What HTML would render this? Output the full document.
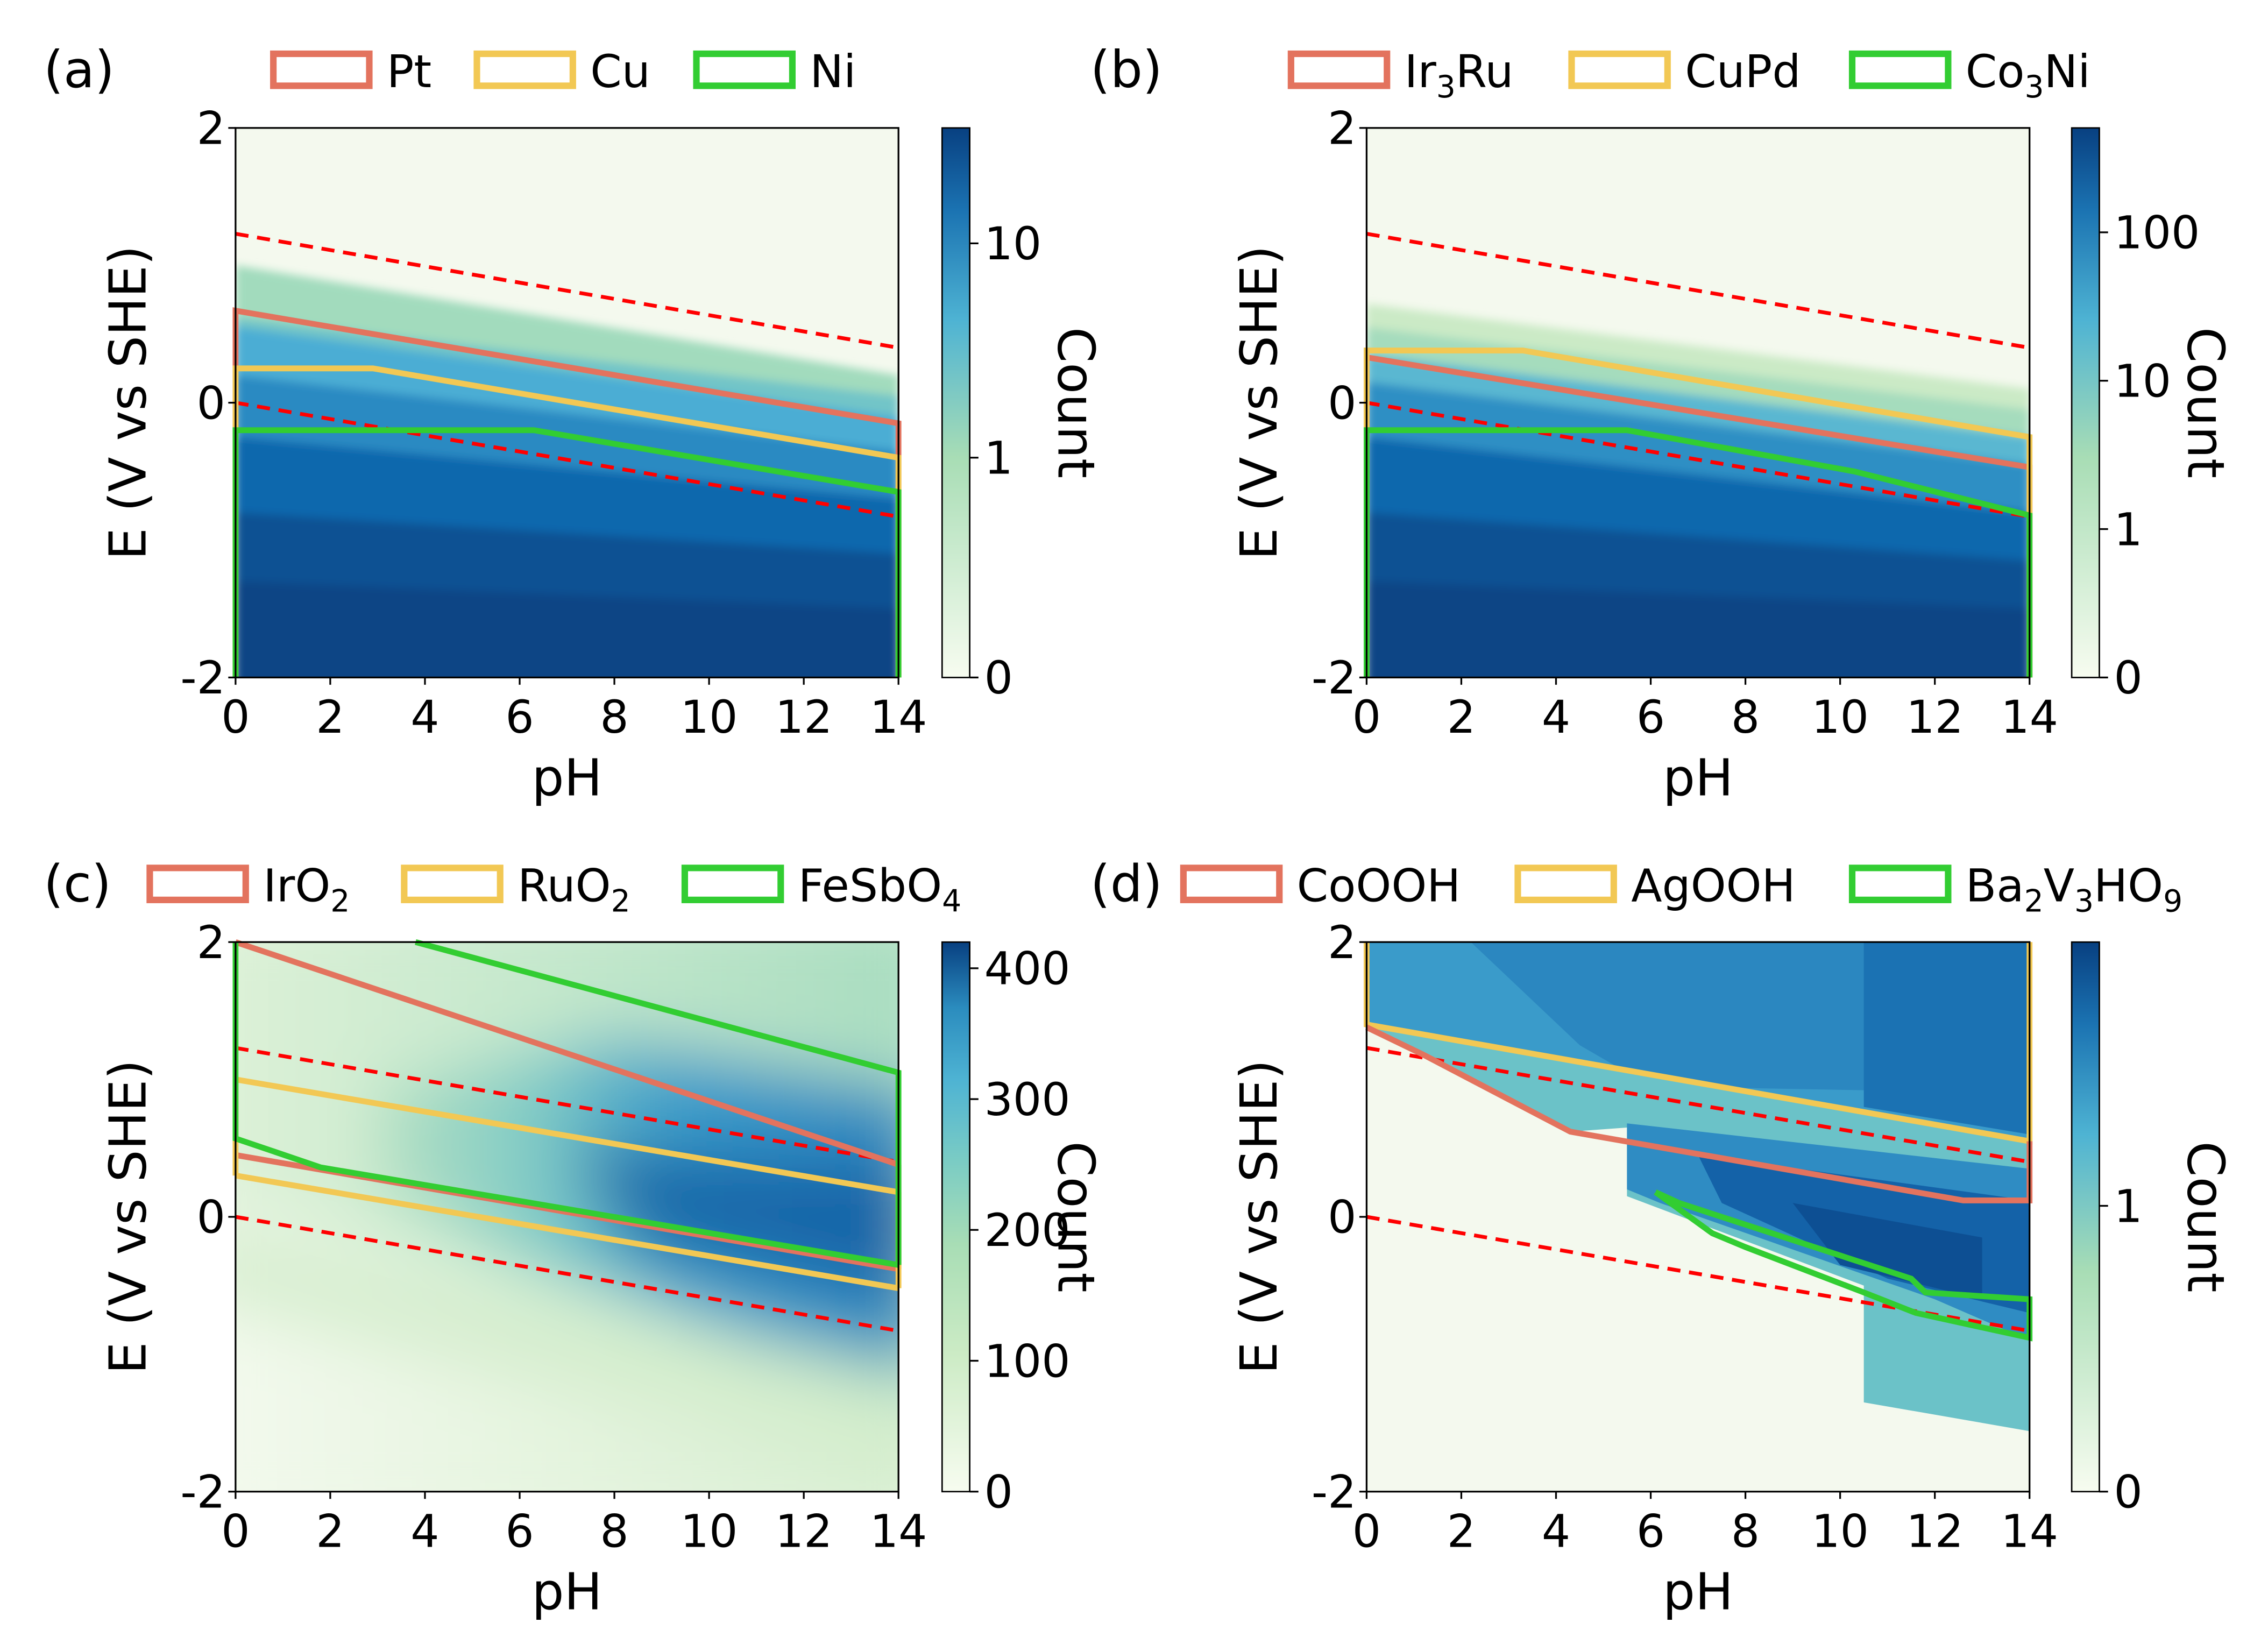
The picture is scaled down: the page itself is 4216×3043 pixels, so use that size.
<!DOCTYPE html>
<html><head><meta charset="utf-8"><style>
html,body{margin:0;padding:0;background:#fff}
svg{display:block}
text{font-family:"DejaVu Sans","Liberation Sans",sans-serif;fill:#000}
</style></head><body>
<svg id="fig" xmlns="http://www.w3.org/2000/svg" width="4216" height="3043" viewBox="0 0 1560 1126">
<defs>
<filter id="blur" x="-20%" y="-20%" width="140%" height="140%"><feGaussianBlur stdDeviation="22"/></filter>
<filter id="blur2" x="-20%" y="-20%" width="140%" height="140%"><feGaussianBlur stdDeviation="3"/></filter>
<linearGradient id="cbA" x1="0" y1="1" x2="0" y2="0"><stop offset="0" stop-color="#f7fcf0"/><stop offset="0.4" stop-color="#a8ddb5"/><stop offset="0.65" stop-color="#4eb3d3"/><stop offset="0.85" stop-color="#1b73b2"/><stop offset="1" stop-color="#084081"/></linearGradient>
<linearGradient id="cbC" x1="0" y1="1" x2="0" y2="0"><stop offset="0" stop-color="#f7fcf0"/><stop offset="0.25" stop-color="#ccebc5"/><stop offset="0.45" stop-color="#a8ddb5"/><stop offset="0.6" stop-color="#7bccc4"/><stop offset="0.75" stop-color="#4eb3d3"/><stop offset="0.88" stop-color="#2b8cbe"/><stop offset="1" stop-color="#084081"/></linearGradient>
<linearGradient id="gTopC" x1="0" y1="0" x2="1" y2="0"><stop offset="0" stop-color="#dff2d8"/><stop offset="1" stop-color="#a6dcbf"/></linearGradient>
<linearGradient id="gBandC" x1="0" y1="0" x2="1" y2="0"><stop offset="0" stop-color="#b5e1c2"/><stop offset="0.3" stop-color="#7ecac6"/><stop offset="0.55" stop-color="#3a9bca"/><stop offset="1" stop-color="#2a85bf"/></linearGradient>
<linearGradient id="gBotC" x1="0" y1="0" x2="1" y2="0"><stop offset="0" stop-color="#f4faee"/><stop offset="1" stop-color="#d5eecf"/></linearGradient>
</defs>
<g id="root"></g>
</svg>
<script>
// ---- data (pH, E) ----
const pHTicks = [0,2,4,6,8,10,12,14];
const eTicks = [-2,0,2];
const waterUpper = [[0,1.23],[14,0.40]];
const waterLower = [[0,0],[14,-0.83]];
// panel a
const aNames = ["Pt","Cu","Ni"];
const aPt = [[0,-2],[0,0.67],[14,-0.15],[14,-2]];
const aCu = [[0,-2],[0,0.25],[2.9,0.25],[14,-0.4],[14,-2]];
const aNi = [[0,-2],[0,-0.2],[6.3,-0.2],[14,-0.65],[14,-2]];
const aBandTop0 = [1.0,0.62,0.55,0.2,-0.25,-0.8,-1.3];
const aBandTop14 = [0.2,0.05,-0.1,-0.35,-0.7,-1.1,-1.5];
const aBandColor = ["#a2dbbd","#72c5c8","#4badd4","#2a8ac2","#1068ad","#0b5193","#094585"];
const aCbTicks = ["10","1","0"];
const aCbTickPos = [0.79,0.40,0];
// panel b
const bNames = ["Ir_3Ru","CuPd","Co_3Ni"];
const bIr = [[0,-2],[0,0.33],[14,-0.47],[14,-2]];
const bCu = [[0,-2],[0,0.38],[3.3,0.38],[14,-0.25],[14,-2]];
const bCo = [[0,-2],[0,-0.2],[5.5,-0.2],[10.3,-0.5],[14,-0.82],[14,-2]];
const bBandTop0 = [0.72,0.55,0.35,0.15,-0.25,-0.8,-1.3];
const bBandTop14 = [0.1,-0.05,-0.25,-0.45,-0.8,-1.15,-1.5];
const bBandColor = ["#cbeac6","#a5dcbd","#5ab7d1","#2f8fc4","#1068ad","#0b5193","#094585"];
const bCbTicks = ["100","10","1","0"];
const bCbTickPos = [0.81,0.54,0.27,0];
// panel c
const cNames = ["IrO_2","RuO_2","FeSbO_4"];
const cIrUp = [[0,2.0],[14,0.38]];
const cIrLo = [[0,0.45],[14,-0.38]];
const cIrSide = [[14,0.38],[14,-0.38]];
const cRuUp = [[0,1.0],[14,0.18]];
const cRuLo = [[0,0.3],[14,-0.52]];
const cRuSide = [[0,1.0],[0,0.3]];
const cRuSide2 = [[14,0.18],[14,-0.52]];
const cFeUp = [[3.8,2.0],[14,1.05],[14,-0.35]];
const cFeLo = [[0,2.0],[0,0.57],[1.8,0.36],[14,-0.35]];
const cCbTicks = ["400","300","200","100","0"];
const cCbValues = [400,300,200,100,0];
const cCbMax = 420;
// panel d
const dNames = ["CoOOH","AgOOH","Ba_2V_3HO_9"];
const dAg = [[0,2],[0,1.4],[14,0.55],[14,2]];
const dCo = [[0,1.38],[1.2,1.18],[4.3,0.62],[12.6,0.12],[14,0.12],[14,0.55]];
const dBa = [[6.1,0.18],[7.3,-0.12],[8,-0.22],[10.5,-0.55],[11.6,-0.7],[14,-0.88],[14,-0.6],[11.8,-0.55],[11.5,-0.45],[6.6,0.1],[6.1,0.18]];
const dCbTicks = ["1","0"];
const dCbTickPos = [0.52,0];

const RED="#e3735e", YEL="#f2c854", GRN="#32cd32";
const NS="http://www.w3.org/2000/svg";
const root=document.getElementById('root');
function el(tag,attrs,parent){const e=document.createElementNS(NS,tag);for(const k in attrs)e.setAttribute(k,attrs[k]);(parent||root).appendChild(e);return e;}

const panels={
 a:{x0:162,x1:618,y0:88,y1:466,cb:648,lx:30,ly:60},
 b:{x0:940,x1:1396,y0:88,y1:466,cb:1425,lx:750,ly:60},
 c:{x0:162,x1:618,y0:648,y1:1026,cb:648,lx:30,ly:620},
 d:{x0:940,x1:1396,y0:648,y1:1026,cb:1425,lx:750,ly:620}
};
function X(p,ph){return p.x0+(ph/14)*(p.x1-p.x0);}
function Y(p,e){return p.y1-((e+2)/4)*(p.y1-p.y0);}
function pts(p,arr){return arr.map(q=>X(p,q[0]).toFixed(1)+","+Y(p,q[1]).toFixed(1)).join(" ");}

function panel(key){
 const p=panels[key];
 const g=el('g',{});
 
 
 const cp=el('clipPath',{id:'clip'+key},g);
 el('rect',{x:p.x0,y:p.y0,width:p.x1-p.x0,height:p.y1-p.y0},cp);
 const hm=el('g',{'clip-path':'url(#clip'+key+')'},g);
 
 
 el('rect',{x:p.x0,y:p.y0,width:p.x1-p.x0,height:p.y1-p.y0,fill:'#f4f9ee'},hm);
 return {p,g,hm};
}
function bands(P,top0,top14,cols){
 const inner=el('g',{filter:'url(#blur2)'},P.hm);
 for(let i=0;i<cols.length;i++){
  const poly=el('polygon',{points:pts(P.p,[[0,top0[i]],[14,top14[i]],[14,-2.3],[0,-2.3]]),fill:cols[i]},inner);
  
  
 }
}
function line(P,arr,color,name,closed){
 const l=el(closed?'polygon':'polyline',{points:pts(P.p,arr),fill:'none',stroke:color,'stroke-width':4,'stroke-linejoin':'miter'},P.g);
 
 
}
function water(P){
 const u=el('polyline',{points:pts(P.p,waterUpper),fill:'none',stroke:'#ff0000','stroke-width':2.6,'stroke-dasharray':'9 6'},P.g);
 
 
 const l=el('polyline',{points:pts(P.p,waterLower),fill:'none',stroke:'#ff0000','stroke-width':2.6,'stroke-dasharray':'9 6'},P.g);
 
 
}
function axes(P,key){
 const p=P.p;
 const fr=el('rect',{x:p.x0,y:p.y0,width:p.x1-p.x0,height:p.y1-p.y0,fill:'none',stroke:'#000','stroke-width':1.2},P.g);
 
 
 pHTicks.forEach(t=>{
  const x=X(p,t);
  el('line',{x1:x,y1:p.y1,x2:x,y2:p.y1+5,stroke:'#000','stroke-width':1.2},P.g);
  const tx=el('text',{x:x,y:p.y1+38,'font-size':31,'text-anchor':'middle'},P.g);
  tx.textContent=t;
  
  
 });
 eTicks.forEach(t=>{
  const y=Y(p,t);
  el('line',{x1:p.x0-5,y1:y,x2:p.x0,y2:y,stroke:'#000','stroke-width':1.2},P.g);
  const tx=el('text',{x:p.x0-7,y:y+11,'font-size':31,'text-anchor':'end'},P.g);
  tx.textContent=t;
  
  
 });
 const xl=el('text',{x:(p.x0+p.x1)/2,y:p.y1+81,'font-size':35,'text-anchor':'middle'},P.g);
 xl.textContent='pH';
 
 
 const cy=(p.y0+p.y1)/2;
 const yl=el('text',{x:0,y:0,'font-size':35,'text-anchor':'middle',transform:`translate(${p.x0-62},${cy}) rotate(-90)`},P.g);
 yl.textContent='E (V vs SHE)';
 
 
 const pl=el('text',{x:p.lx,y:p.ly,'font-size':35},P.g);
 pl.textContent='('+key+')';
 
 
}
function colorbar(P,grad,labels,pos){
 const p=P.p;
 const cb=el('rect',{x:p.cb,y:p.y0,width:19,height:p.y1-p.y0,fill:'url(#'+grad+')',stroke:'#000','stroke-width':1},P.g);
 
 
 labels.forEach((s,i)=>{
  const y=p.y1-pos[i]*(p.y1-p.y0);
  el('line',{x1:p.cb+19,y1:y,x2:p.cb+25,y2:y,stroke:'#000','stroke-width':1.2},P.g);
  const t=el('text',{x:p.cb+29,y:y+11,'font-size':31},P.g);
  t.textContent=s;
  
  
 });
 const cl=el('text',{x:0,y:0,'font-size':35,'text-anchor':'middle',transform:`translate(${p.cb+80},${(p.y0+p.y1)/2}) rotate(90)`},P.g);
 cl.textContent='Count';
 
 
}
function richText(t,str){
 const parts=str.split(/(_\d)/);
 let shifted=false;
 parts.forEach(s=>{
  if(!s)return;
  if(s[0]==='_'){const ts=el('tspan',{'font-size':21,dy:7},t);ts.textContent=s.slice(1);shifted=true;}
  else{const ts=el('tspan',shifted?{dy:-7}:{},t);ts.textContent=s;shifted=false;}
 });
}
function legend(P,names,xs,y){
 const cols=[RED,YEL,GRN];
 names.forEach((n,i)=>{
  const r=el('rect',{x:xs[i],y:y,width:66,height:22,fill:'none',stroke:cols[i],'stroke-width':4.5},P.g);
  
  
  const t=el('text',{x:xs[i]+78,y:y+23,'font-size':31},P.g);
  richText(t,n);
  
  
 });
}

// Panel a
let A=panel('a');
bands(A,aBandTop0,aBandTop14,aBandColor);
water(A);
line(A,aPt,RED,'pt-boundary');
line(A,aCu,YEL,'cu-boundary');
line(A,aNi,GRN,'ni-boundary');
axes(A,'a');colorbar(A,'cbA',aCbTicks,aCbTickPos);
legend(A,aNames,[188,328,479],37);

// Panel b
let B=panel('b');
bands(B,bBandTop0,bBandTop14,bBandColor);
water(B);
line(B,bIr,RED,'ir3ru-boundary');
line(B,bCu,YEL,'cupd-boundary');
line(B,bCo,GRN,'co3ni-boundary');
axes(B,'b');colorbar(B,'cbA',bCbTicks,bCbTickPos);
legend(B,bNames,[888,1081,1274],37);

// Panel c
let C=panel('c');
{
 const g=el('g',{filter:'url(#blur)'},C.hm);
 el('polygon',{points:pts(C.p,[[-1,2.3],[15,2.3],[15,-1.4],[-1,0.2]]),fill:'url(#gTopC)'},g);
 el('polygon',{points:pts(C.p,[[-1,0.2],[15,-1.4],[15,-2.3],[-1,-2.3]]),fill:'url(#gBotC)'},g);
 el('polygon',{points:pts(C.p,[[-1,-0.6],[15,-1.9],[15,-1.3],[-1,0.0]]),fill:'#d2ecca',opacity:0.8},g);
 el('polygon',{points:pts(C.p,[[3,0.95],[8,1.3],[14.5,0.9],[14.5,-1.1],[11,-0.85],[6,-0.3],[3,0.2]]),fill:'url(#gBandC)'},g);
 el('polygon',{points:pts(C.p,[[7,0.5],[14.5,0.35],[14.5,-0.55],[8.5,-0.2]]),fill:'#0e5ea3',opacity:0.85},g);
}
water(C);
line(C,cIrUp,RED,'iro2-upper');line(C,cIrLo,RED,'iro2-lower');line(C,cIrSide,RED,'iro2-side');
line(C,cRuUp,YEL,'ruo2-upper');line(C,cRuLo,YEL,'ruo2-lower');line(C,cRuSide,YEL,'ruo2-side');line(C,cRuSide2,YEL,'ruo2-side2');
line(C,cFeUp,GRN,'fesbo4-upper');line(C,cFeLo,GRN,'fesbo4-lower');
axes(C,'c');colorbar(C,'cbC',cCbTicks,cCbValues.map(v=>v/cCbMax));
legend(C,cNames,[103,278,471],597);

// Panel d
let D=panel('d');
{
 const h=D.hm;
 el('polygon',{points:pts(D.p,[[0,2],[14,2],[14,0.55],[0,1.4]]),fill:'#3a9bca'},h);
 el('polygon',{points:pts(D.p,[[2.2,2],[14,2],[14,0.9],[6,0.95],[4.5,1.25]]),fill:'#2b87c0'},h);
 el('polygon',{points:pts(D.p,[[10.5,2],[14,2],[14,0.6],[10.5,0.8]]),fill:'#1b72b3'},h);
 el('polygon',{points:pts(D.p,[[0,1.4],[14,0.55],[14,-1.56],[10.5,-1.35],[10.5,-0.5],[5.5,0.15],[5.5,0.65],[4.3,0.62],[1.2,1.18]]),fill:'#6bc2c8'},h);
 el('polygon',{points:pts(D.p,[[5.5,0.68],[14,0.35],[14,-0.9],[12,-0.6],[6.2,0.1],[5.5,0.2]]),fill:'#2f8cc3'},h);
 el('polygon',{points:pts(D.p,[[7,0.45],[14,0.12],[14,-0.7],[11,-0.45],[7.5,0.1]]),fill:'#1462a8'},h);
 el('polygon',{points:pts(D.p,[[9,0.1],[13,-0.15],[13,-0.6],[10,-0.35]]),fill:'#0d4f93'},h);
}
water(D);
line(D,dAg,YEL,'agooh-boundary');
line(D,dCo,RED,'cooh-boundary');
line(D,dBa,GRN,'ba2v3ho9-boundary');
axes(D,'d');colorbar(D,'cbA',dCbTicks,dCbTickPos);
legend(D,dNames,[814,1044,1274],597);
</script>
</body></html>
